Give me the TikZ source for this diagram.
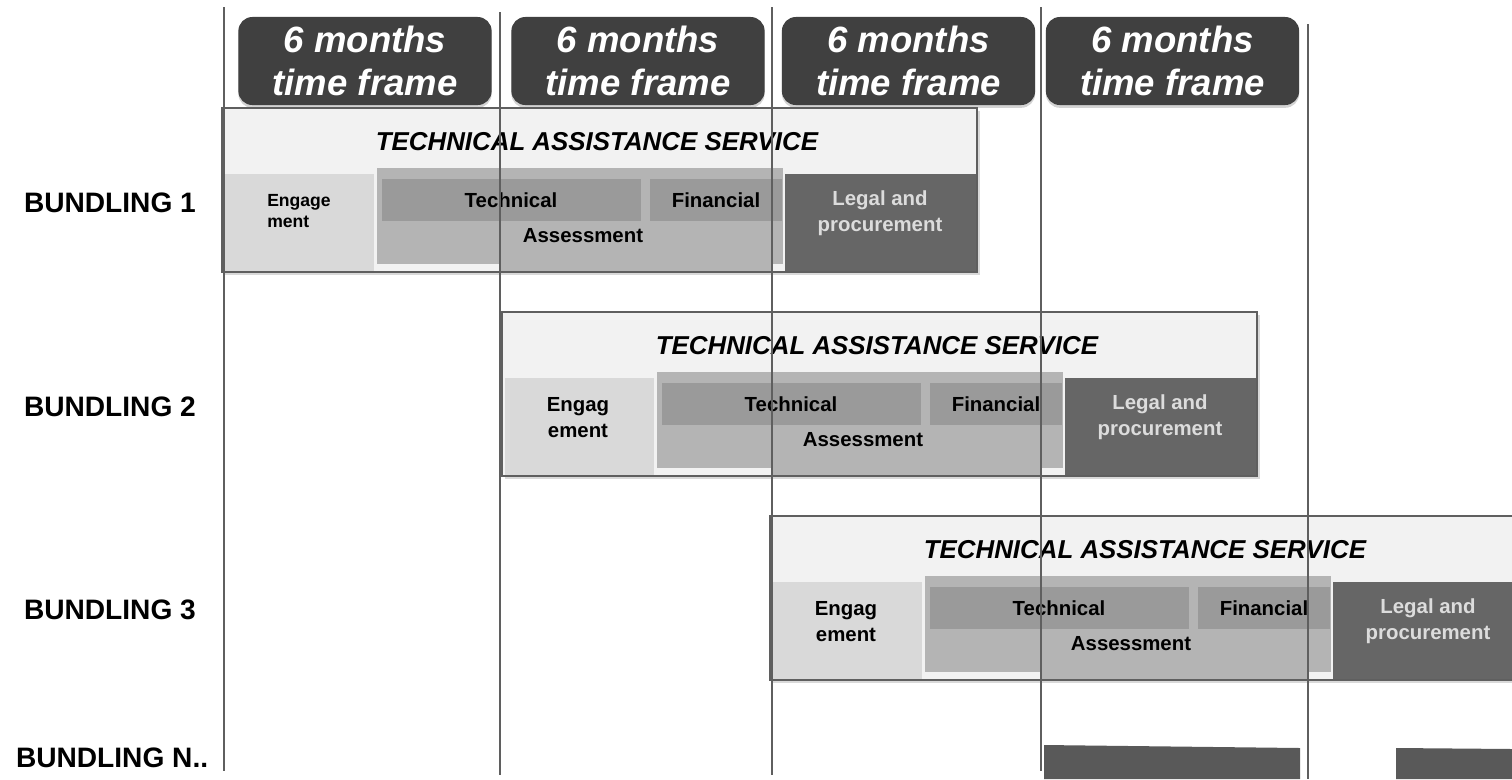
\documentclass[tikz,border=0pt]{standalone}
\usepackage{fontspec}
\setmainfont{Liberation Sans}
\usetikzlibrary{shadows}
\definecolor{headgrey}{HTML}{404040}
\definecolor{linegrey}{HTML}{5F5F5F}
\definecolor{bandgrey}{HTML}{F2F2F2}
\definecolor{enggrey}{HTML}{D9D9D9}
\definecolor{assgrey}{HTML}{B4B4B4}
\definecolor{techgrey}{HTML}{9A9A9A}
\definecolor{legalgrey}{HTML}{666666}
\definecolor{legaltext}{HTML}{DCDCDC}
\definecolor{bargrey}{HTML}{595959}

\begin{document}
\begin{tikzpicture}[x=0.025cm, y=-0.025cm, inner sep=0pt, outer sep=0pt,
    header/.style={fill=headgrey, rounded corners=0.35cm, minimum width=6.33cm, minimum height=2.2cm,
        text=white, align=center, font=\fontsize{26}{31}\selectfont\bfseries\itshape,
        drop shadow={shadow xshift=0pt, shadow yshift=-2pt, opacity=0.35}},
    rowlabel/.style={anchor=west, font=\fontsize{20}{24}\selectfont\bfseries},
    servicetitle/.style={font=\fontsize{18.4}{22}\selectfont\bfseries\itshape},
    phase/.style={font=\fontsize{14.5}{18.5}\selectfont\bfseries, align=center},
    boxline/.style={draw=linegrey, line width=1.4pt},
    gridline/.style={draw=linegrey, line width=1.4pt}]
    \useasboundingbox (0,0) rectangle (1512,779);

    % time frames
    \foreach \x [count=\i] in {365,638,908.5,1172.5}
        \node[header] (month\i) at (\x,61) {6 months\\time frame};

    % bundlings
    \foreach \dx/\dy/\ovl/\ovr [count=\n] in {0/0/501/772, 280/204/492/761, 548/408/493/760}{
        \begin{scope}[shift={(\dx,\dy)}]
            \fill[bandgrey, drop shadow={shadow xshift=2pt, shadow yshift=-2pt, opacity=0.3}] (222,108) rectangle (977,272);
            \fill[enggrey] (225,174) rectangle (374,272);
            \fill[assgrey] (377,168) rectangle (783,264);
            \fill[assgrey] (\ovl,264) rectangle (\ovr,272);
            \fill[techgrey] (382,179) rectangle (641,221);
            \fill[techgrey] (650,179) rectangle (782,221);
            \fill[legalgrey] (785,174) rectangle (976,272);
            \draw[boxline] (222,108) rectangle (977,272);
            \node[servicetitle] (service\n) at (597,142) {TECHNICAL ASSISTANCE SERVICE};
            \node[phase] (tech\n) at (511,200) {Technical};
            \node[phase] (fin\n) at (716,200) {Financial};
            \node[phase] (assess\n) at (583,236) {Assessment};
            \node[phase, text=legaltext] (legal\n) at (880,213) {Legal and\\procurement};
        \end{scope}
    }
    \node[phase, align=left, font=\fontsize{12.5}{15.5}\selectfont\bfseries] (engage1) at (299,211) {Engage\\ment};
    \node[phase] (engage2) at (578,418) {Engag\\ement};
    \node[phase] (engage3) at (846,622) {Engag\\ement};

    % last row
    \fill[bargrey] (1044,745) -- (1300,748) -- (1300,779) -- (1044,779) -- cycle;
    \fill[bargrey] (1396,748) -- (1512,749) -- (1512,779) -- (1396,779) -- cycle;

    % six month marks
    \foreach \x/\t/\b [count=\i] in {224/7/771, 500/12/775, 772/7/775, 1041/7/771, 1308/24/779}{
        \coordinate (top\i) at (\x,\t);
        \coordinate (bot\i) at (\x,\b);
        \draw[gridline] (top\i) -- (bot\i);
    }

    \node[rowlabel] (row1) at (24,203) {BUNDLING 1};
    \node[rowlabel] (row2) at (24,407) {BUNDLING 2};
    \node[rowlabel] (row3) at (24,610) {BUNDLING 3};
    \node[rowlabel] (rowN) at (16,758) {BUNDLING N..};
\end{tikzpicture}
\end{document}
